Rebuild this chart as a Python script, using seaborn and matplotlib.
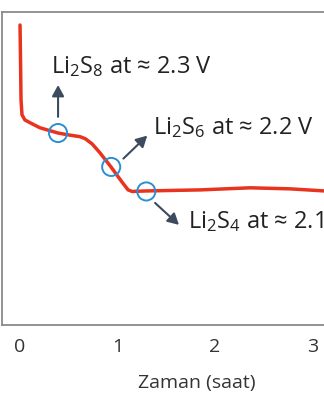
import matplotlib
matplotlib.use("Agg")
import matplotlib.pyplot as plt
import seaborn as sns
import pandas as pd

# Discharge curve (time in hours, voltage in V)
time_h = [0.0, 0.005, 0.01, 0.02, 0.05, 0.10, 0.205, 0.39, 0.51, 0.615, 0.67,
          0.74, 0.82, 0.933, 1.046, 1.108, 1.15, 1.30, 1.85, 2.36, 2.77, 3.12, 3.5]
voltage = [2.575, 2.508, 2.432, 2.403, 2.393, 2.388, 2.378, 2.368, 2.364, 2.361,
           2.357, 2.347, 2.330, 2.303, 2.274, 2.259, 2.256, 2.257, 2.259, 2.263,
           2.261, 2.257, 2.257]

# Marked points (circles)
mark_t = [0.39, 0.935, 1.295]
mark_v = [2.368, 2.303, 2.256]

labels = [r"Li$\mathregular{_2}$S$\mathregular{_8}$ at ≈ 2.3 V",
          r"Li$\mathregular{_2}$S$\mathregular{_6}$ at ≈ 2.2 V",
          r"Li$\mathregular{_2}$S$\mathregular{_4}$ at ≈ 2.1 V"]

x_ticks = [0, 1, 2, 3]
y_ticks = [2.2, 2.4]
x_label = "Zaman (saat)"

sns.set_theme(style="white")
plt.rcParams["font.family"] = ["Open Sans", "DejaVu Sans"]
plt.rcParams["mathtext.fontset"] = "custom"
plt.rcParams["mathtext.rm"] = "Open Sans"
plt.rcParams["mathtext.it"] = "Open Sans"

fig = plt.figure(figsize=(3.24, 4.0), dpi=100)
ax = fig.add_axes([2 / 324, 75 / 400, 390 / 324, 313 / 400])

df = pd.DataFrame({"t": time_h, "v": voltage})
sns.lineplot(data=df, x="t", y="v", ax=ax, color="#e8331f", lw=2.5,
             estimator=None, sort=False)
sns.scatterplot(x=mark_t, y=mark_v, ax=ax, s=170, facecolor="none",
                edgecolor="#2b8fd4", linewidth=1.4, zorder=5)

ax.set_xlim(-0.185, 3.815)
ax.set_ylim(2.0, 2.6)
ax.set_xticks(x_ticks)
ax.set_xticklabels([str(x) for x in x_ticks])
ax.set_yticks(y_ticks)
ax.set_xlabel(x_label, fontsize=14, color="#333333", labelpad=13)
ax.set_ylabel("")

for s in ax.spines.values():
    s.set_color("#8a8a8a")
    s.set_linewidth(1.3)
ax.tick_params(axis="both", direction="in", length=6, width=1.1, color="#8a8a8a",
               labelsize=14, labelcolor="#333333", pad=9)
ax.tick_params(axis="y", labelleft=False)

arrow_kw = dict(arrowstyle="-|>,head_length=0.55,head_width=0.3", color="#3d4b5e",
                lw=1.5, shrinkA=0, shrinkB=0)
# arrows: (tail, tip) in data coords
arrows = [((0.39, 2.399), (0.39, 2.46)),
          ((1.06, 2.319), (1.305, 2.363)),
          ((1.385, 2.234), (1.63, 2.192))]
for (tail, tip) in arrows:
    ax.annotate("", xy=tip, xytext=tail, arrowprops=arrow_kw)

text_pos = [(0.318, 2.483), (1.364, 2.365), (1.723, 2.185)]
for (tx, ty), lab in zip(text_pos, labels):
    ax.text(tx, ty, lab, fontsize=17, color="#222222", ha="left", va="baseline")

fig.savefig("out.png", dpi=100)
